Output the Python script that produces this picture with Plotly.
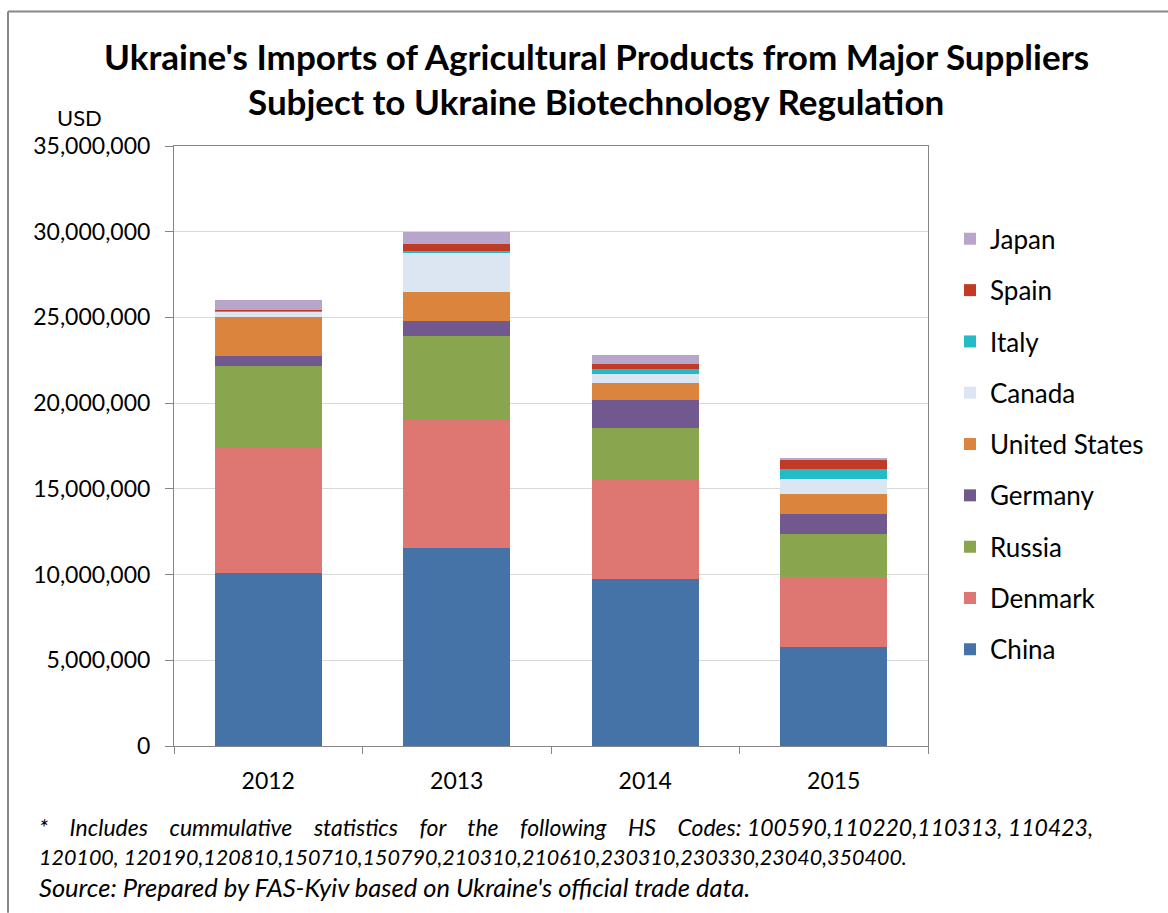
import plotly.graph_objects as go

years = ["2012", "2013", "2014", "2015"]
countries = ["China", "Denmark", "Russia", "Germany", "United States", "Canada", "Italy", "Spain", "Japan"]
china = [10110000, 11550000, 9740000, 5780000]
denmark = [7260000, 7470000, 5820000, 4060000]
russia = [4800000, 4910000, 2990000, 2510000]
germany = [580000, 840000, 1650000, 1200000]
united_states = [2250000, 1710000, 980000, 1130000]
canada = [360000, 2320000, 520000, 890000]
italy = [20000, 80000, 290000, 590000]
spain = [80000, 390000, 310000, 540000]
japan = [570000, 730000, 530000, 80000]
series = [china, denmark, russia, germany, united_states, canada, italy, spain, japan]
colors = ["#4573A7", "#DE7672", "#89A54E", "#71588F", "#DB843D", "#DCE6F2", "#22BBC6", "#C03A26", "#B7A6CA"]
y_ticks = [0, 5000000, 10000000, 15000000, 20000000, 25000000, 30000000, 35000000]

W, H = 1168, 913
L, R, T, B = 174, 928, 145.5, 746


def px_x(px):
    return (px - L) / (R - L)


def px_y(py):
    return (B - py) / (B - T)


fig = go.Figure()
n = len(countries)
for i, (name, vals, col) in enumerate(zip(countries, series, colors)):
    fig.add_trace(go.Bar(
        x=years, y=vals, name=name, legendgroup=name,
        legendrank=100 + (n - i),
        marker=dict(color=col, line=dict(width=0)),
    ))

FONT = "Lato"
fig.update_layout(
    width=W, height=H,
    margin=dict(l=L, r=W - R, t=T, b=H - B, pad=0),
    barmode="stack",
    bargap=0.432,
    paper_bgcolor="white",
    plot_bgcolor="white",
    font=dict(family=FONT, color="#000000"),
    showlegend=True,
    legend=dict(
        x=px_x(950), xanchor="left",
        y=px_y(215), yanchor="top",
        traceorder="grouped",
        tracegroupgap=14.5,
        font=dict(family=FONT, size=26, color="#000000"),
        bgcolor="rgba(0,0,0,0)",
    ),
    xaxis=dict(
        type="category",
        showline=True, linecolor="#868686", linewidth=1, mirror=True,
        ticks="outside", tickson="boundaries", ticklen=7, tickcolor="#868686",
        ticklabelstandoff=14,
        tickfont=dict(family=FONT, size=23, color="#000000"),
        showgrid=False,
    ),
    yaxis=dict(
        range=[0, 35000000],
        tickvals=y_ticks,
        tickformat=",",
        showline=True, linecolor="#868686", linewidth=1, mirror=True,
        ticks="outside", ticklen=8, tickcolor="#868686",
        ticklabelstandoff=10,
        tickfont=dict(family=FONT, size=23, color="#000000"),
        showgrid=True, gridcolor="#D9D9D9", gridwidth=1,
        zeroline=False,
    ),
    shapes=[
        dict(type="line", xref="paper", yref="paper",
             x0=px_x(8), x1=px_x(8), y0=px_y(11), y1=px_y(913),
             line=dict(color="#888888", width=2)),
        dict(type="line", xref="paper", yref="paper",
             x0=px_x(8), x1=px_x(1168), y0=px_y(11), y1=px_y(11),
             line=dict(color="#888888", width=2)),
    ],
)

NB = "\u00a0"
line1_words = ["*", "Includes", "cummulative", "statistics", "for", "the", "following", "HS", "Codes:"]
line1 = (NB * 4).join(line1_words) + " 100590,110220,110313, 110423,"

annotations = [
    dict(text="<b>Ukraine's Imports of Agricultural Products from Major Suppliers</b>",
         x=px_x(596), y=px_y(55), font=dict(size=35)),
    dict(text="<b>Subject to Ukraine Biotechnology Regulation</b>",
         x=px_x(596), y=px_y(100), font=dict(size=35)),
    dict(text="USD", x=px_x(79), y=px_y(117), font=dict(size=22)),
    dict(text="<i>" + line1 + "</i>",
         x=px_x(37), y=px_y(827), xanchor="left", font=dict(size=23)),
    dict(text="<i>120100, 120190,120810,150710,150790,210310,210610,230310,230330,23040,350400.</i>",
         x=px_x(37), y=px_y(857), xanchor="left", font=dict(size=21.5)),
    dict(text="<i>Source: Prepared by FAS-Kyiv based on Ukraine's official trade data.</i>",
         x=px_x(37), y=px_y(887), xanchor="left", font=dict(size=25.5)),
]
for a in annotations:
    a.setdefault("xanchor", "center")
    a["yanchor"] = "middle"
    a["xref"] = "paper"
    a["yref"] = "paper"
    a["showarrow"] = False
    a["font"] = dict(family=FONT, color="#000000", size=a["font"]["size"])
    fig.add_annotation(**a)

fig.write_html(
    "out.html",
    config={"displayModeBar": False},
    post_script="document.body.style.margin='0';document.body.style.overflow='hidden';",
)
